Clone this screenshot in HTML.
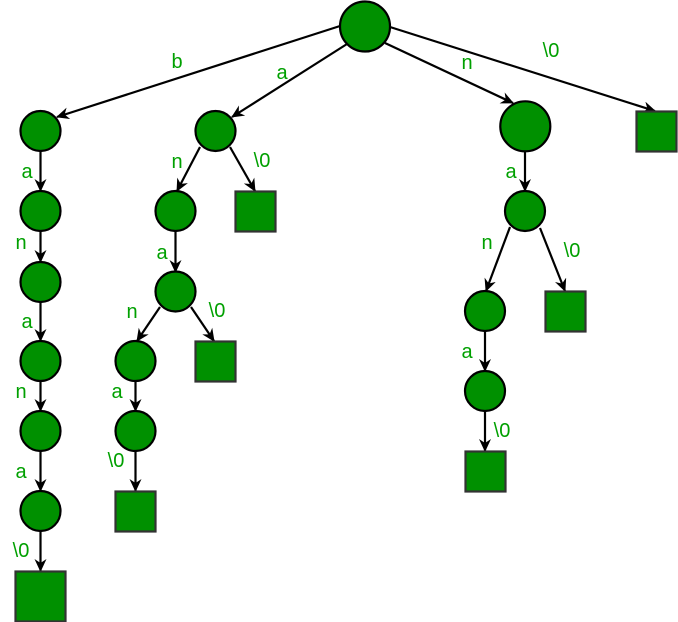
<!DOCTYPE html>
<html>
<head>
<meta charset="utf-8">
<style>
html,body{margin:0;padding:0;background:#fff;}
svg{display:block;}
text{font-family:"Liberation Sans",Arial,sans-serif;font-size:20px;fill:#00a000;text-anchor:middle;dominant-baseline:central;}
</style>
</head>
<body>
<svg width="678" height="622" viewBox="0 0 678 622" xmlns="http://www.w3.org/2000/svg">
<defs>
<marker id="ah" viewBox="0 0 13 12" refX="12" refY="6" markerWidth="13" markerHeight="12" markerUnits="userSpaceOnUse" orient="auto">
<path d="M0,0 L13,6 L0,12 L4,6 Z" fill="#000"/>
</marker>
</defs>
<g stroke="#000" stroke-width="2.2" fill="none" marker-end="url(#ah)">
<line x1="340" y1="26" x2="57" y2="117"/>
<line x1="347" y1="44" x2="232" y2="117"/>
<line x1="385" y1="43" x2="513" y2="103"/>
<line x1="390" y1="27" x2="655" y2="111"/>
<line x1="40.5" y1="151" x2="40.5" y2="191"/>
<line x1="40.5" y1="231" x2="40.5" y2="262"/>
<line x1="40.5" y1="302" x2="40.5" y2="341"/>
<line x1="40.5" y1="381" x2="40.5" y2="411"/>
<line x1="40.5" y1="451" x2="40.5" y2="491"/>
<line x1="40.5" y1="531" x2="40.5" y2="571"/>
<line x1="200" y1="147" x2="177" y2="191"/>
<line x1="230" y1="147" x2="255" y2="191"/>
<line x1="175.5" y1="231" x2="175.5" y2="272"/>
<line x1="160" y1="307" x2="137" y2="341"/>
<line x1="191" y1="307" x2="214" y2="341"/>
<line x1="135.5" y1="381" x2="135.5" y2="411"/>
<line x1="135.5" y1="451" x2="135.5" y2="491"/>
<line x1="525" y1="151" x2="525" y2="191"/>
<line x1="510" y1="227" x2="486" y2="291"/>
<line x1="540" y1="228" x2="565" y2="291"/>
<line x1="485" y1="331" x2="485" y2="371"/>
<line x1="485" y1="411" x2="485" y2="451"/>
</g>
<g fill="#009000" stroke="#000" stroke-width="2.2">
<circle cx="365" cy="26.5" r="25"/>
<circle cx="40.5" cy="131" r="20"/>
<circle cx="40.5" cy="211" r="20"/>
<circle cx="40.5" cy="282" r="20"/>
<circle cx="40.5" cy="361" r="20"/>
<circle cx="40.5" cy="431" r="20"/>
<circle cx="40.5" cy="511" r="20"/>
<circle cx="215.5" cy="131" r="20"/>
<circle cx="175.5" cy="211" r="20"/>
<circle cx="175.5" cy="291.5" r="20"/>
<circle cx="135.5" cy="361" r="20"/>
<circle cx="135.5" cy="431" r="20"/>
<circle cx="525.3" cy="126.3" r="25"/>
<circle cx="525" cy="211" r="20"/>
<circle cx="485" cy="311" r="20"/>
<circle cx="485" cy="391" r="20"/>
</g>
<g fill="#009000" stroke="#333" stroke-width="2.2">
<rect x="15.5" y="571.5" width="50" height="50"/>
<rect x="235.5" y="191.5" width="40" height="40"/>
<rect x="195.5" y="341.5" width="40" height="40"/>
<rect x="115.5" y="491.5" width="40" height="40"/>
<rect x="636.5" y="111.5" width="40" height="40"/>
<rect x="545.5" y="291.5" width="40" height="40"/>
<rect x="465.5" y="451.5" width="40" height="40"/>
</g>
<g>
<text x="177" y="62">b</text>
<text x="282" y="73">a</text>
<text x="467" y="63">n</text>
<text x="551" y="51">\0</text>
<text x="27" y="172">a</text>
<text x="21" y="243">n</text>
<text x="27" y="322">a</text>
<text x="21" y="392">n</text>
<text x="21" y="472">a</text>
<text x="21" y="551">\0</text>
<text x="177" y="162">n</text>
<text x="262" y="161">\0</text>
<text x="162" y="253">a</text>
<text x="132" y="312">n</text>
<text x="217" y="311">\0</text>
<text x="117" y="392">a</text>
<text x="116" y="461">\0</text>
<text x="511" y="172">a</text>
<text x="487" y="243">n</text>
<text x="572" y="251">\0</text>
<text x="467" y="352">a</text>
<text x="502" y="431">\0</text>
</g>
</svg>
</body>
</html>
